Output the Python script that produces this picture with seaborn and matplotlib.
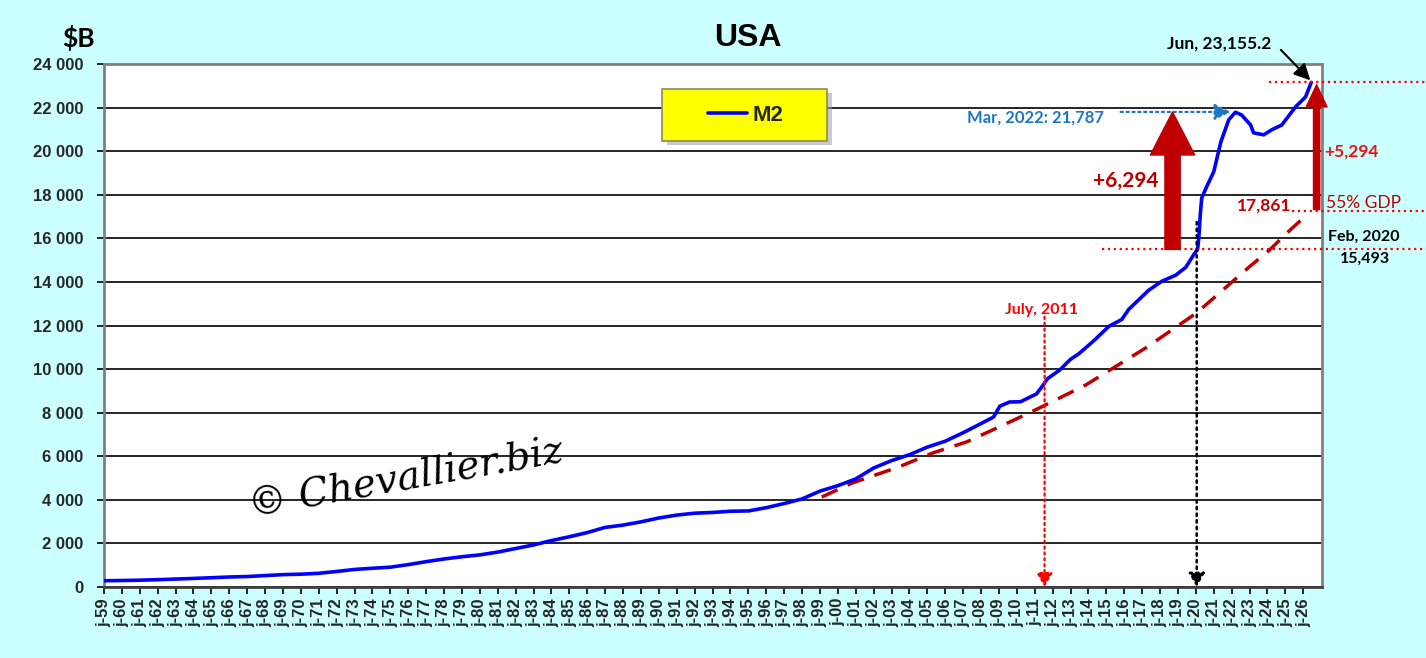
import matplotlib
matplotlib.use("Agg")
import matplotlib.pyplot as plt
import matplotlib.patches as mpatches
import seaborn as sns
import pandas as pd

# ---------------- data ----------------
m2_years = [1959.0, 1960.0, 1961.0, 1962.0, 1963.0, 1964.0, 1965.0, 1966.0, 1967.0, 1968.0,
            1969.0, 1970.0, 1971.0, 1972.0, 1973.0, 1974.0, 1975.0, 1976.0, 1977.0, 1978.0,
            1979.0, 1980.0, 1981.0, 1982.0, 1983.0, 1984.0, 1985.0, 1986.0, 1987.0, 1988.0,
            1989.0, 1990.0, 1991.0, 1992.0, 1993.0, 1994.0, 1995.0, 1996.0, 1997.0, 1998.0,
            1999.0, 2000.0, 2001.0, 2002.0, 2003.0, 2004.0, 2005.0, 2006.0, 2007.0, 2008.0,
            2008.7, 2009.05, 2009.6, 2010.2, 2011.1, 2011.5, 2011.7, 2012.4, 2013.0, 2013.46,
            2014.3, 2015.14, 2015.87, 2016.25, 2017.37, 2018.1, 2018.88, 2019.44, 2019.9, 2020.1,
            2020.17, 2020.25, 2020.33, 2020.6, 2021.0, 2021.4, 2021.84, 2022.21, 2022.56, 2023.06,
            2023.23, 2023.79, 2024.24, 2024.8, 2025.57, 2026.13, 2026.45]
m2_values = [287, 298, 312, 336, 364, 393, 425, 459, 480, 525,
             567, 588, 628, 713, 805, 861, 911, 1027, 1163, 1286,
             1389, 1474, 1601, 1766, 1930, 2131, 2306, 2497, 2735, 2841,
             2990, 3167, 3300, 3387, 3420, 3477, 3490, 3640, 3830, 4040,
             4400, 4650, 4960, 5460, 5800, 6070, 6420, 6690, 7080, 7500,
             7800, 8300, 8490, 8500, 8860, 9300, 9550, 9960, 10450, 10700,
             11300, 11960, 12280, 12740, 13620, 14030, 14310, 14670, 15270, 15493,
             16050, 17100, 17850, 18360, 19050, 20430, 21440, 21787, 21660, 21200,
             20840, 20750, 20980, 21200, 22030, 22490, 23155]

gdp55_years = [1999.1, 2000.8, 2003.4, 2005.3, 2007.2, 2009.0, 2010.8, 2013.85, 2017.2,
               2020.05, 2023.0, 2024.1, 2025.2, 2026.3]
gdp55_values = [4130, 4770, 5510, 6150, 6660, 7340, 8030, 9270, 10970,
                12580, 14700, 15450, 16330, 17150]

tick_years = list(range(1959, 2027))
tick_labels = [f"j-{y % 100:02d}" for y in tick_years]
y_ticks = list(range(0, 24001, 2000))
y_labels = [f"{v:,}".replace(",", " ") for v in y_ticks]

feb2020_value = 15493
mar2022_value = 21787
jun_value = 23155.2
gdp_level = 17260

# ---------------- style ----------------
sns.set_theme(style="white")
plt.rcParams["font.family"] = ["Liberation Sans", "DejaVu Sans"]

BG = "#CCFFFF"
DARKRED = "#C00000"
RED = "#FF0000"
BLUE_TXT = "#1F77C4"

fig = plt.figure(figsize=(14.26, 6.58), dpi=100, facecolor=BG)
ax = fig.add_axes([104 / 1426, 1 - 587 / 658, (1322 - 104) / 1426, (587 - 64) / 658])
ax.set_facecolor("white")

df_m2 = pd.DataFrame({"year": m2_years, "value": m2_values})
df_gdp = pd.DataFrame({"year": gdp55_years, "value": gdp55_values})

sns.lineplot(data=df_m2, x="year", y="value", ax=ax, color="#0000FF", lw=2.6,
             label="M2", zorder=4)
sns.lineplot(data=df_gdp, x="year", y="value", ax=ax, color=DARKRED, lw=2.5,
             dashes=False, legend=False, zorder=3)
ax.lines[-1].set_linestyle((0, (5, 3.2)))

ax.set_xlim(1959, 2027.05)
ax.set_ylim(0, 24000)
ax.set_xticks(tick_years)
ax.set_xticklabels(tick_labels, rotation=90, fontsize=12, fontweight="bold",
                   family=["Liberation Sans", "DejaVu Sans"])
ax.set_yticks(y_ticks)
ax.set_yticklabels(y_labels, fontsize=12, fontweight="bold",
                   family=["Liberation Sans", "DejaVu Sans"])
ax.set_xlabel("")
ax.set_ylabel("")
ax.yaxis.grid(True, color="black", lw=1.2)
ax.xaxis.grid(False)
ax.tick_params(axis="both", direction="out", length=5, width=1.2, color="black",
               bottom=True, left=True)
ax.tick_params(axis="y", pad=10)
ax.tick_params(axis="x", pad=3)
for side in ["top", "right", "left"]:
    ax.spines[side].set_color("#808080")
    ax.spines[side].set_linewidth(2)
ax.spines["bottom"].set_color("#404040")
ax.spines["bottom"].set_linewidth(2)

# ---------------- legend box ----------------
shadow = mpatches.Rectangle((0.462, 0.845), 0.136, 0.099, transform=ax.transAxes,
                            facecolor="#A0A0A0", alpha=0.55, edgecolor="none", zorder=4.4)
ax.add_patch(shadow)
box = mpatches.Rectangle((0.458, 0.853), 0.136, 0.099, transform=ax.transAxes,
                         facecolor="#FFFF00", edgecolor="#8C8C5A", lw=1.2, zorder=4.5)
ax.add_patch(box)
leg = ax.legend(loc="center", bbox_to_anchor=(0.5265, 0.902), frameon=False,
                handlelength=1.75, handletextpad=0.25,
                prop=dict(family="Liberation Sans", weight="bold", size=16))
leg.set_zorder(6)
for h in leg.get_lines():
    h.set_linewidth(2.6)

# ---------------- titles ----------------
fig.text(0.5245, 0.942, "USA", ha="center", va="center", fontsize=23, fontweight="bold",
         family="Liberation Sans", color="black")
fig.text(0.0547, 0.942, "$B", ha="center", va="center", fontsize=19, fontweight="bold",
         family="Lato", color="black")

# ---------------- watermark ----------------
ax.text(1975.9, 4950, "\u00a9 Chevallier.biz", ha="center", va="center", rotation=10,
        fontsize=28, style="italic", family="DejaVu Serif", color="black", zorder=5)

# ---------------- annotations ----------------
X_FAR = 2032.9
# red dotted horizontal lines
ax.plot([2014.75, X_FAR], [feb2020_value, feb2020_value], ls=":", color=RED, lw=1.6,
        clip_on=False, zorder=5)
ax.plot([2025.35, X_FAR], [gdp_level, gdp_level], ls=":", color=RED, lw=1.6,
        clip_on=False, zorder=5)
ax.plot([2024.1, X_FAR], [jun_value, jun_value], ls=":", color=RED, lw=1.6,
        clip_on=False, zorder=5)

# vertical dotted arrows
ax.annotate("", xy=(2020.05, 0), xytext=(2020.05, 16750),
            arrowprops=dict(arrowstyle="-|>,head_length=0.6,head_width=0.35", color="black",
                            lw=1.8, ls=":", shrinkA=0, shrinkB=0, mutation_scale=14),
            zorder=5)
ax.annotate("", xy=(2011.55, 0), xytext=(2011.55, 12400),
            arrowprops=dict(arrowstyle="-|>,head_length=0.6,head_width=0.35", color=RED,
                            lw=1.6, ls=":", shrinkA=0, shrinkB=0, mutation_scale=14),
            zorder=5)
ax.text(2011.4, 12720, "July, 2011", ha="center", va="center", color=RED,
        fontsize=11.5, fontweight="bold", family="Lato")

# blue dotted arrow to the Mar 2022 peak
ax.annotate("", xy=(2021.95, 21800), xytext=(2015.8, 21800),
            arrowprops=dict(arrowstyle="-|>,head_length=0.7,head_width=0.35", color=BLUE_TXT,
                            lw=1.6, ls=":", shrinkA=0, shrinkB=0, mutation_scale=14),
            zorder=5)
ax.text(2014.85, 21550, f"Mar, 2022: {mar2022_value:,}", ha="right", va="center",
        color=BLUE_TXT, fontsize=12, fontweight="bold", family="Lato")

# big red arrow (+6,294)
ax.annotate("", xy=(2018.7, 21800), xytext=(2018.7, feb2020_value),
            arrowprops=dict(arrowstyle="simple,head_length=31,head_width=32,tail_width=11",
                            mutation_scale=1, color=DARKRED, shrinkA=0, shrinkB=0),
            zorder=6)
ax.text(2016.1, 18650, "+6,294", ha="center", va="center", color=DARKRED,
        fontsize=15, fontweight="bold", family="Lato")

# small red arrow (+5,294)
ax.annotate("", xy=(2026.75, 23050), xytext=(2026.75, gdp_level + 60),
            arrowprops=dict(arrowstyle="simple,head_length=16,head_width=15,tail_width=4.5",
                            mutation_scale=1, color=DARKRED, shrinkA=0, shrinkB=0),
            zorder=6, annotation_clip=False)
ax.text(2027.15, 19970, "+5,294", ha="left", va="center", color="#EE1111",
        fontsize=12.5, fontweight="bold", family="Lato")
ax.text(2025.35, 17500, "17,861", ha="right", va="center", color=DARKRED,
        fontsize=12.5, fontweight="bold", family="Lato")
ax.text(2027.3, 17640, "55% GDP", ha="left", va="center", color=DARKRED,
        fontsize=12.5, family="Lato")

# Feb 2020 label
ax.text(2029.4, 16060, "Feb, 2020", ha="center", va="center", color="black",
        fontsize=11.5, fontweight="bold", family="Lato")
ax.text(2029.45, 15050, f"{feb2020_value:,}", ha="center", va="center", color="black",
        fontsize=11.5, fontweight="bold", family="Lato")

# Jun label + arrow
ax.text(2021.3, 24930, f"Jun, {jun_value:,.1f}", ha="center", va="center", color="black",
        fontsize=12.5, fontweight="bold", family="Lato")
ax.annotate("", xy=(2026.4, 23250), xytext=(2024.75, 24650),
            arrowprops=dict(arrowstyle="-|>,head_length=0.7,head_width=0.35", color="black",
                            lw=1.5, shrinkA=0, shrinkB=0, mutation_scale=14),
            annotation_clip=False, zorder=6)

fig.savefig("out.png", dpi=100, facecolor=BG)
